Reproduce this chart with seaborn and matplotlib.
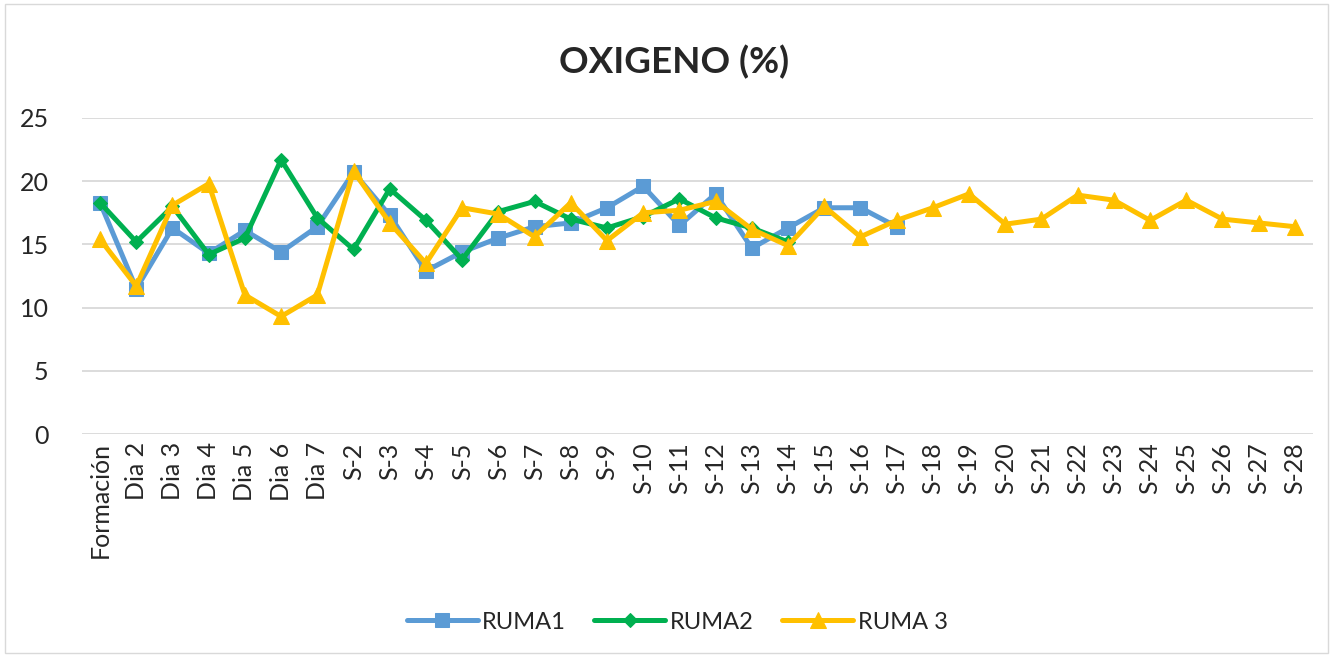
import matplotlib
matplotlib.use("Agg")
import matplotlib.pyplot as plt
import seaborn as sns
import numpy as np
import pandas as pd
from matplotlib.patches import Rectangle

categories = ["Formación", "Dia 2", "Dia 3", "Dia 4", "Dia 5", "Dia 6", "Dia 7"] + [f"S-{i}" for i in range(2, 29)]

ruma1 = [18.3, 11.5, 16.3, 14.3, 16.1, 14.4, 16.4, 20.7, 17.3, 12.9, 14.4, 15.5, 16.4, 16.7,
         17.9, 19.6, 16.5, 19.0, 14.7, 16.3, 17.9, 17.9, 16.4]
ruma2 = [18.3, 15.2, 18.0, 14.2, 15.5, 21.7, 17.1, 14.6, 19.4, 16.9, 13.8, 17.6, 18.4, 17.0,
         16.3, 17.2, 18.6, 17.1, 16.3, 15.2]
ruma3 = [15.4, 11.7, 18.1, 19.8, 11.0, 9.3, 11.0, 20.8, 16.7, 13.5, 17.9, 17.4, 15.6, 18.3,
         15.3, 17.5, 17.7, 18.4, 16.2, 14.9, 18.0, 15.6, 16.9, 17.9, 19.0, 16.6, 17.0, 18.9,
         18.5, 16.9, 18.5, 17.0, 16.7, 16.4]

series = [("RUMA1", ruma1, "#5B9BD5", "s", 10),
          ("RUMA2", ruma2, "#00B050", "D", 7.5),
          ("RUMA 3", ruma3, "#FFC000", "^", 11)]

sns.set_style("white")
plt.rcParams['font.family'] = ['Lato', 'DejaVu Sans']

fig = plt.figure(figsize=(13.33, 6.57), dpi=100)
ax = fig.add_axes([0.0615, 0.3394, 0.9235, 0.481])

for name, vals, color, mk, ms in series:
    df = pd.DataFrame({"x": np.arange(len(vals)), "y": vals})
    sns.lineplot(data=df, x="x", y="y", ax=ax, color=color, marker=mk, markersize=ms,
                 markeredgecolor=color, linewidth=3.6, label=name, sort=False)

ax.set_xlim(-0.5, len(categories) - 0.5)
ax.set_ylim(0, 25)
ax.set_yticks(np.arange(0, 26, 5))
ax.set_xticks(np.arange(len(categories)))
ax.set_xticklabels(categories, rotation=90, fontsize=18)
ax.tick_params(axis='y', labelsize=18, length=0, pad=24)
ax.tick_params(axis='x', length=0, pad=6)
ax.grid(axis='y', color='#d9d9d9', linewidth=1.3)
ax.set_axisbelow(True)
for s in ax.spines.values():
    s.set_visible(False)
ax.set_xlabel("")
ax.set_ylabel("")

fig.text(0.506, 0.905, "OXIGENO (%)", ha='center', va='center', fontsize=26.5, fontweight='bold')

ax.legend(loc='center', frameon=False, ncol=3, fontsize=17, handlelength=3.0,
          columnspacing=1.2, handletextpad=0.2)
leg = ax.get_legend()
leg.set_bbox_to_anchor((0.508, 0.053), transform=fig.transFigure)

fig.patches.append(Rectangle((0.004, 0.006), 0.992, 0.988, transform=fig.transFigure,
                             fill=False, edgecolor='#d9d9d9', linewidth=1))

fig.savefig("out.png", dpi=100)
